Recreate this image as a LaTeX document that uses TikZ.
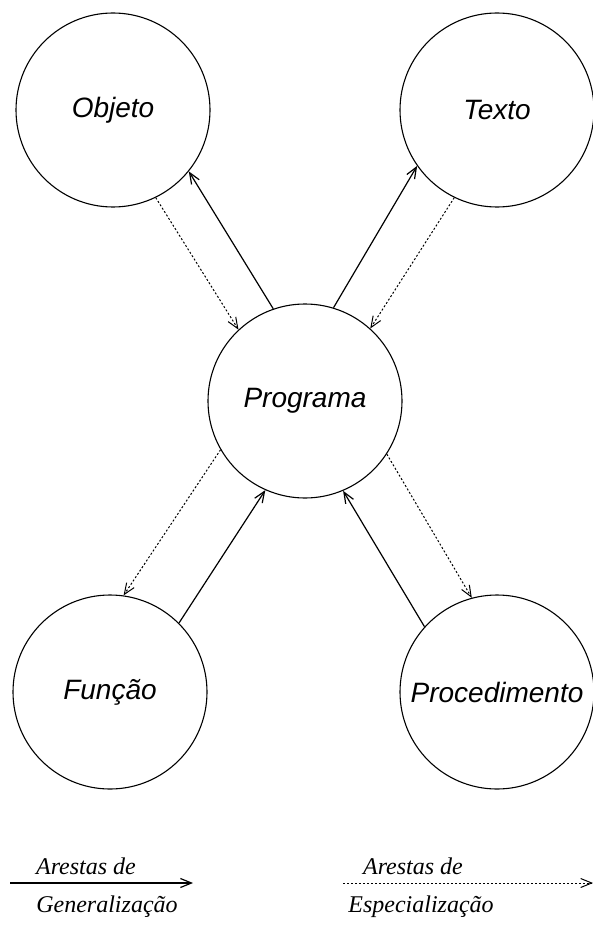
\documentclass[tikz,border=0pt]{standalone}
\usepackage{fontspec}
\setmainfont{Liberation Serif}
\setsansfont{Liberation Sans}
\usetikzlibrary{arrows.meta}
\tikzstyle{class state}=[
        draw,
        circle,
        line width = 1.1pt,
        minimum size = 194pt,
        inner sep = 0pt,
        font = \fontsize{28}{32}\selectfont\sffamily\itshape
    ]
\tikzstyle{gen}=[-{Straight Barb[length=11pt,width=9pt]}, line width=1.2pt]
\tikzstyle{spec}=[gen, dash pattern=on 2pt off 2pt, line width=1pt]
\tikzstyle{legend}=[font=\fontsize{24}{28}\selectfont\itshape, inner sep=0pt]

\begin{document}
\begin{tikzpicture}[x=1pt, y=-1pt]
        \useasboundingbox (0,0) rectangle (593,928);

        \node[class state] (P) at (305,401) {Programa};
        \node[class state] (O) at (113,110) {Objeto};
        \node[class state] (T) at (497,110) {Texto};
        \node[class state] (F) at (110,692) {Função};
        \node[class state] (R) at (497,692) {Procedimento};

        \draw[gen] (P.109) -- (O.-39);
        \draw[spec] (O.-64) -- (P.133);
        \draw[gen] (P.73) -- (T.215);
        \draw[spec] (T.244) -- (P.48);
        \draw[spec] (P.-150) -- (F.82);
        \draw[gen] (F.45) -- (P.-114);
        \draw[spec] (P.-33) -- (R.105);
        \draw[gen] (R.138) -- (P.-67);

        % legenda
        \coordinate (g1) at (10,883);
        \coordinate (g2) at (193,883);
        \coordinate (s1) at (343,883);
        \coordinate (s2) at (593,883);
        \draw[gen] (g1) -- (g2);
        \draw[spec] (s1) -- (s2);
        \node[legend] (ga) at (86,866) {Arestas de};
        \node[legend] (gb) at (107,907) {Generalização};
        \node[legend] (sa) at (413,866) {Arestas de};
        \node[legend] (sb) at (421,907) {Especialização};
    \end{tikzpicture}
\end{document}
